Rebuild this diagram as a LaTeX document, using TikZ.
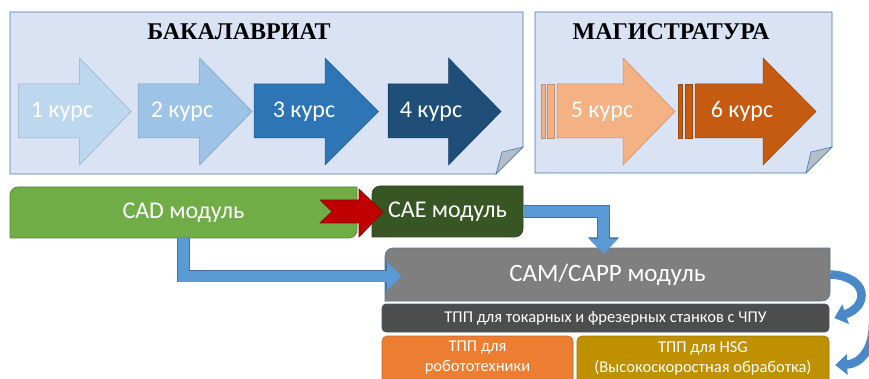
\documentclass[tikz,border=0pt]{standalone}
\usepackage{fontspec}
\setmainfont{Carlito}
\newfontfamily\titlefont{Liberation Serif}
\usetikzlibrary{arrows.meta}

\definecolor{stagebg}{HTML}{DAE3F3}
\definecolor{stageline}{HTML}{4A76A8}
\definecolor{foldgray}{HTML}{B4BECB}
\definecolor{kursA}{HTML}{BDD7EE}
\definecolor{kursB}{HTML}{9DC3E6}
\definecolor{kursC}{HTML}{2E75B6}
\definecolor{kursD}{HTML}{1F4E79}
\definecolor{kursE}{HTML}{F4B183}
\definecolor{kursF}{HTML}{C55A11}
\definecolor{cadgreen}{HTML}{70AD47}
\definecolor{caegreen}{HTML}{375623}
\definecolor{camgray}{HTML}{7F7F7F}
\definecolor{tppgray}{HTML}{4D4D4D}
\definecolor{robotorange}{HTML}{ED7D31}
\definecolor{hsggold}{HTML}{BF9000}
\definecolor{flowblue}{HTML}{5B9BD5}
\definecolor{flowline}{HTML}{41719C}
\definecolor{turnblue}{HTML}{4A89C8}
\definecolor{redarrow}{HTML}{C00000}

\tikzset{
  stage/.style={fill=stagebg, draw=stageline, line width=0.8pt},
  fold/.style={fill=foldgray, draw=stageline, line width=0.6pt},
  kurs/.style={fill=#1, draw=#1!80!black, line width=0.5pt},
  title/.style={font=\titlefont\bfseries\fontsize{24}{24}\selectfont},
  kurstext/.style={text=white, font=\fontsize{24}{24}\selectfont},
  modul/.style={text=white, inner sep=0pt, font=\fontsize{24}{24}\selectfont},
  tpp/.style={text=white, inner sep=0pt, align=center, font=\fontsize{16.5}{20}\selectfont},
  flow/.style={draw=flowblue, line width=11pt, -{Triangle[width=28pt,length=15pt]},
    preaction={draw=flowline, line width=12.5pt, -{Triangle[width=30pt,length=16.5pt]}}},
  turn/.style={draw=turnblue, line width=8.5pt, -{Triangle[width=20pt,length=12pt]}}
}

% left end, head start, tip, colour
\newcommand{\kursarrow}[4]{%
  \filldraw[kurs=#4] (#1,84) -- (#2,84) -- (#2,58) -- (#3,111.5) -- (#2,165)
    -- (#2,138) -- (#1,138) -- cycle;}
% the two thin bars in front of a master's arrow
\newcommand{\kursbars}[3]{%
  \filldraw[kurs=#3] (#1,84) rectangle ++(4,54);
  \filldraw[kurs=#3] (#2,84) rectangle ++(7,54);}

\begin{document}
\begin{tikzpicture}[x=1pt, y=-1pt]
  \clip (0,0) rectangle (869,379);
  \fill[white] (0,0) rectangle (869,379);

  % bachelor and master stages
  \filldraw[stage] (10,12) -- (523,12) -- (523,147) -- (496,174) -- (10,174) -- cycle;
  \filldraw[fold] (523,147) -- (502,152) -- (496,174) -- cycle;
  \filldraw[stage] (535,12) -- (832,12) -- (832,147) -- (806,173) -- (535,173) -- cycle;
  \filldraw[fold] (832,147) -- (811,152) -- (806,173) -- cycle;

  \node[title] (bak) at (239,32) {БАКАЛАВРИАТ};
  \node[title] (mag) at (671,32) {МАГИСТРАТУРА};

  \kursarrow{18.5}{79.5}{131}{kursA}
  \kursarrow{138}{199.5}{252}{kursB}
  \kursarrow{254}{325}{378.5}{kursC}
  \kursarrow{388}{448.5}{501}{kursD}
  \kursbars{541}{547}{kursE}
  \kursarrow{557}{623}{675}{kursE}
  \kursbars{678}{685}{kursF}
  \kursarrow{695}{763}{816}{kursF}

  \node[kurstext] (k1) at (62,111.5)  {1 курс};
  \node[kurstext] (k2) at (182,111.5) {2 курс};
  \node[kurstext] (k3) at (304,111.5) {3 курс};
  \node[kurstext] (k4) at (431,111.5) {4 курс};
  \node[kurstext] (k5) at (602,111.5) {5 курс};
  \node[kurstext] (k6) at (742,111.5) {6 курс};

  % modules
  \filldraw[fill=cadgreen, draw=cadgreen!75!black, line width=0.6pt]
    (10,238) [rounded corners=8pt] -- (10,187) [sharp corners] -- (357,187)
    [rounded corners=8pt] -- (357,238) [sharp corners] -- cycle;
  \filldraw[fill=caegreen, draw=caegreen!80!black, line width=0.6pt]
    (372,237) [rounded corners=8pt] -- (372,186) [sharp corners] -- (523,186)
    [rounded corners=8pt] -- (523,237) [sharp corners] -- cycle;
  \filldraw[fill=camgray, draw=flowline!70!camgray, line width=0.6pt]
    (385,301) [rounded corners=8pt] -- (385,248) [sharp corners] -- (830,248)
    [rounded corners=8pt] -- (830,301) [sharp corners] -- cycle;
  \filldraw[fill=tppgray, draw=flowline!40!tppgray, line width=0.6pt, rounded corners=4pt]
    (382,304) rectangle (829,332);
  \filldraw[fill=robotorange, draw=robotorange!80!black, line width=0.6pt, rounded corners=5pt]
    (382,336) rectangle (573,392);
  \filldraw[fill=hsggold, draw=hsggold!80!black, line width=0.6pt, rounded corners=5pt]
    (577,336) rectangle (829,392);

  \node[modul] (cad) at (183.5,212.5) [minimum width=347pt, minimum height=51pt] {CAD модуль};
  \node[modul] (cae) at (447.5,211.5) [minimum width=151pt, minimum height=51pt] {CAE модуль};
  \node[modul] (cam) at (607.5,274.5) [minimum width=445pt, minimum height=53pt,
    font=\fontsize{25}{25}\selectfont] {CAM/CAPP модуль};
  \node[tpp] (tpp) at (605.5,318) [minimum width=447pt, minimum height=28pt]
    {ТПП для токарных и фрезерных станков с ЧПУ};
  \node[tpp] (robot) at (477.5,358) [minimum width=191pt, minimum height=44pt]
    {ТПП для\\робототехники};
  \node[tpp] (hsg) at (703,358) [minimum width=252pt, minimum height=44pt]
    {ТПП для HSG\\(Высокоскоростная обработка)};

  % CAD -> CAE
  \filldraw[fill=redarrow, draw=redarrow!75!black, line width=0.6pt]
    (320,200) -- (359,200) -- (359,189) -- (383,212) -- (359,237) -- (359,223)
    -- (320,223) -- (332,211.5) -- cycle;

  % into CAM/CAPP
  \draw[flow] (cad.south) |- ([xshift=17pt, yshift=-1.5pt]cam.west);
  \draw[flow] (cae.east) -| ([xshift=-4pt, yshift=-6pt]cam.north);

  % on to the process planning
  \coordinate (turnin) at (873,324);
  \draw[turn] (cam.east) .. controls (868,276) and (870,306) .. ([xshift=5pt]tpp.east);
  \draw[turn] (turnin) .. controls (873,350) and (860,364) .. ([xshift=6pt, yshift=-7pt]hsg.east);
\end{tikzpicture}
\end{document}
